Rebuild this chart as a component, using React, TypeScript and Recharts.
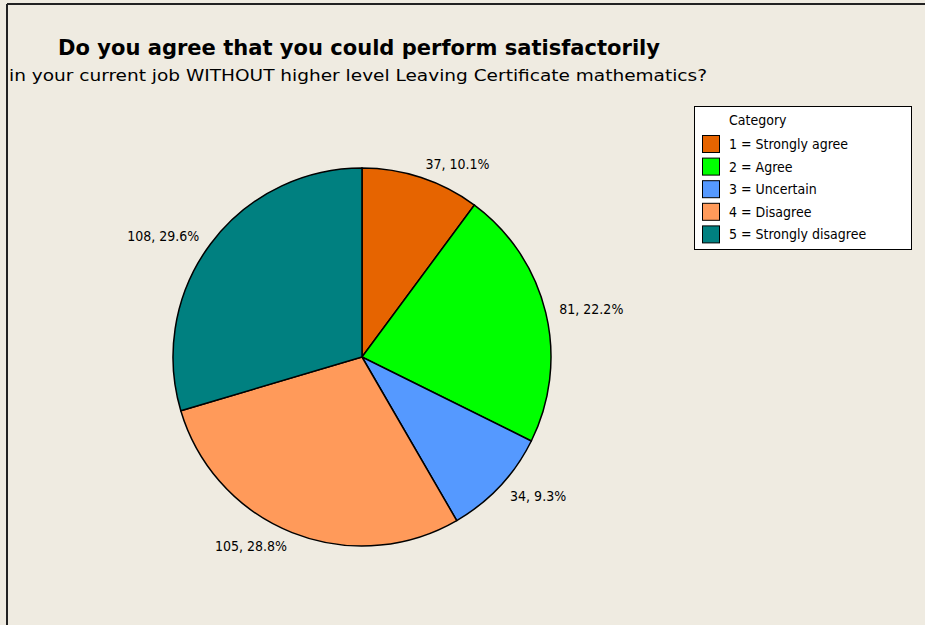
import { PieChart, Pie, Cell, Legend } from "recharts";

const categories = [
  "1 = Strongly agree",
  "2 = Agree",
  "3 = Uncertain",
  "4 = Disagree",
  "5 = Strongly disagree",
];
const counts = [37, 81, 34, 105, 108];
const colors = ["#E66400", "#00FF00", "#5599FF", "#FF9A5A", "#008080"];

const data = categories.map((name, i) => ({ name, value: counts[i] }));

const FONT = "'DejaVu Sans Condensed', 'DejaVu Sans', sans-serif";
const BG = "#EFEBE1";

const RADIAN = Math.PI / 180;

const renderLabel = (props: any) => {
  const { cx, cy, midAngle, outerRadius, value, percent } = props;
  const r = outerRadius + 14;
  const x = cx + r * Math.cos(-midAngle * RADIAN);
  const y = cy + r * Math.sin(-midAngle * RADIAN);
  return (
    <text
      x={x}
      y={y}
      fill="#000"
      fontSize={14}
      fontFamily={FONT}
      textAnchor={x > cx ? "start" : "end"}
      dominantBaseline="central"
    >
      {`${value}, ${(percent * 100).toFixed(1)}%`}
    </text>
  );
};

const LegendBox = () => (
  <svg width={220} height={146} style={{ display: "block" }}>
    <rect x={0.5} y={0.5} width={217} height={143} fill="#fff" stroke="#000" />
    <text x={35} y={14} fontSize={14} fontFamily={FONT} dominantBaseline="central">
      Category
    </text>
    {categories.map((c, i) => (
      <g key={c}>
        <rect
          x={8.5}
          y={29.5 + i * 22.6}
          width={17}
          height={17}
          fill={colors[i]}
          stroke="#000"
        />
        <text
          x={35}
          y={38 + i * 22.6}
          fontSize={14}
          fontFamily={FONT}
          dominantBaseline="central"
        >
          {c}
        </text>
      </g>
    ))}
  </svg>
);

export default function App() {
  return (
    <div
      style={{
        position: "absolute",
        left: 0,
        top: 0,
        width: 925,
        height: 625,
        background: BG,
        overflow: "hidden",
      }}
    >
      <svg
        width={925}
        height={625}
        style={{ position: "absolute", left: 0, top: 0 }}
      >
        <line x1={7} y1={4} x2={925} y2={4} stroke="#222" strokeWidth={2} />
        <line x1={7} y1={4} x2={7} y2={625} stroke="#222" strokeWidth={2} />
        <text
          x={58}
          y={55}
          fontSize={22}
          fontWeight="bold"
          fontFamily={FONT}
          textLength={602}
          lengthAdjust="spacingAndGlyphs"
        >
          Do you agree that you could perform satisfactorily
        </text>
        <text
          x={9}
          y={81}
          fontSize={16}
          fontFamily={FONT}
          textLength={698}
          lengthAdjust="spacingAndGlyphs"
        >
          in your current job WITHOUT higher level Leaving Certificate mathematics?
        </text>
      </svg>
      <div style={{ position: "absolute", left: 0, top: 0 }}>
        <PieChart
          width={925}
          height={625}
          margin={{ top: 0, right: 0, bottom: 0, left: 0 }}
        >
          <Pie
            data={data}
            dataKey="value"
            nameKey="name"
            cx={362}
            cy={357}
            outerRadius={189}
            startAngle={90}
            endAngle={-270}
            stroke="#000"
            strokeWidth={1.5}
            label={renderLabel}
            labelLine={false}
            isAnimationActive={false}
          >
            {data.map((d, i) => (
              <Cell key={d.name} fill={colors[i]} />
            ))}
          </Pie>
          <Legend
            layout="vertical"
            verticalAlign="top"
            align="right"
            content={() => <LegendBox />}
            wrapperStyle={{ left: 694, top: 106, width: 220 }}
          />
        </PieChart>
      </div>
    </div>
  );
}
